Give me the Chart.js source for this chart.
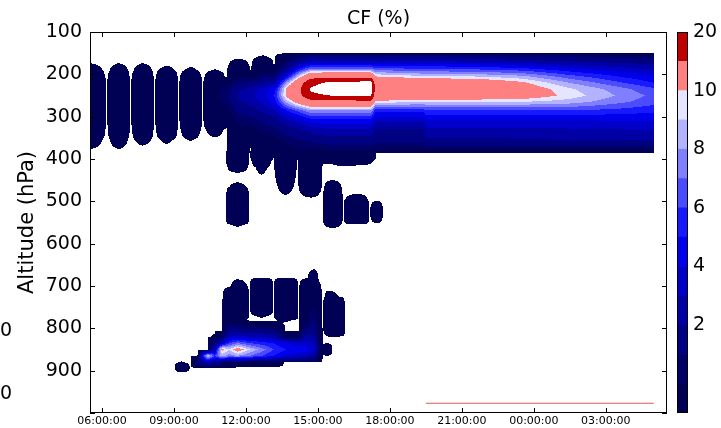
<!DOCTYPE html>
<html>
<head>
<meta charset="utf-8">
<script src="https://cdn.jsdelivr.net/npm/chart.js@4/dist/chart.umd.min.js"></script>
<style>
  body { margin: 0; background: #fff; }
  #cf { position: absolute; left: 0; top: 0; }
  #bar { position: absolute; left: 670px; top: 0; }
</style>
</head>
<body>
<canvas id="cf" width="721" height="428"></canvas>
<canvas id="bar" width="51" height="428"></canvas>
<script>
const FONT = "DejaVu Sans";

// contour levels and the seismic colours of the bands between them
const levels = [0.01, 0.5, 1, 2, 3, 4, 5, 6, 7, 8, 9, 10, 15, 20];
const bandColors = [
    "#000055", "#000067", "#000082", "#0000A5", "#0000C9", "#0000ED", "#1919FF",
    "#4C4CFF", "#7F7FFF", "#B2B2FF", "#E5E5FF", "#FF8080", "#BF0000",
];
const colorbarTicks = [2, 4, 6, 8, 10, 20];

const xTickHours = [6, 9, 12, 15, 18, 21, 24, 27];
const yTicks = [100, 200, 300, 400, 500, 600, 700, 800, 900, 1000];

// upper cloud layer: one profile per time (hours since midnight)
const upperTimes = [5.5, 6.2, 6.7, 7.2, 7.7, 8.2, 8.7, 9.2, 9.7, 10.2, 10.7, 11.2, 11.7, 12.2, 12.7,
    13.2, 13.7, 14.2, 14.7, 15.5, 16.5, 17.2, 17.4, 19.4, 19.5, 21.5, 23.5, 25.5, 27.5, 29.0];
const upperPressures = [150, 160, 175, 190, 205, 220, 235, 250, 265, 285, 305, 330, 355, 375, 386];
const upperCF = [
    [0, 0, 0.012, 0.04, 0.1, 0.25, 0.3, 0.3, 0.3, 0.3, 0.25, 0.12, 0.04, 0.012, 0],
    [0, 0, 0, 0, 0, 0, 0, 0, 0, 0, 0, 0, 0, 0, 0],
    [0, 0, 0.012, 0.04, 0.1, 0.25, 0.3, 0.3, 0.3, 0.3, 0.25, 0.12, 0.04, 0.012, 0],
    [0, 0, 0, 0, 0, 0, 0, 0, 0, 0, 0, 0, 0, 0, 0],
    [0, 0, 0.012, 0.04, 0.1, 0.25, 0.3, 0.3, 0.3, 0.3, 0.25, 0.1, 0.03, 0, 0],
    [0, 0, 0, 0, 0, 0, 0, 0, 0, 0, 0, 0, 0, 0, 0],
    [0, 0, 0, 0.03, 0.1, 0.25, 0.3, 0.3, 0.3, 0.3, 0.25, 0.1, 0.02, 0, 0],
    [0, 0, 0, 0, 0, 0, 0, 0, 0, 0, 0, 0, 0, 0, 0],
    [0, 0, 0, 0.02, 0.08, 0.2, 0.3, 0.3, 0.3, 0.3, 0.2, 0.06, 0.012, 0, 0],
    [0, 0, 0, 0, 0, 0, 0, 0, 0, 0, 0, 0, 0, 0, 0],
    [0, 0, 0, 0.012, 0.06, 0.2, 0.35, 0.4, 0.35, 0.3, 0.2, 0.04, 0, 0, 0],
    [0, 0, 0, 0, 0, 0.1, 0.6, 0.8, 0.6, 0.3, 0.1, 0, 0, 0, 0],
    [0, 0, 0.05, 0.2, 0.4, 1, 1.8, 2.2, 1.8, 1.2, 0.7, 0.4, 0.3, 0.25, 0.2],
    [0, 0, 0, 0, 0.1, 1.2, 2.4, 2.8, 2.4, 1.6, 0.8, 0.3, 0.1, 0, 0],
    [0, 0.02, 0.1, 0.3, 0.8, 2, 3.4, 3.6, 3.2, 2.2, 1.3, 0.6, 0.35, 0.3, 0.25],
    [0, 0, 0, 0.1, 1, 2.5, 4.5, 5.2, 4.5, 3, 1.8, 0.8, 0.3, 0.1, 0],
    [0, 0.2, 0.8, 2, 4.5, 8, 10.5, 10.5, 8.5, 5, 3, 1.5, 0.6, 0.35, 0.3],
    [0, 0.8, 2.5, 5.5, 9, 12.5, 14, 13.5, 11, 6.5, 3.8, 2, 0.9, 0.5, 0.3],
    [0, 1.5, 4, 8, 13, 18.5, 20.5, 19, 13, 8, 5, 2.5, 1.2, 0.5, 0.3],
    [0, 1.5, 4, 8, 13.5, 21, 23, 20, 13.5, 8, 5, 3, 1.5, 0.6, 0.3],
    [0, 1.5, 4, 8, 13.5, 21.5, 23, 20.5, 13.5, 8, 5, 3, 1.5, 0.6, 0.3],
    [0, 1.5, 4, 8, 13.5, 22, 23.5, 21, 13.5, 8, 5, 3, 1.5, 0.6, 0.3],
    [0, 1.5, 3.8, 7, 10, 13, 13.5, 12.5, 9.5, 5.5, 3.5, 1.9, 1.3, 0.5, 0],
    [0, 1.5, 4, 6.5, 9.2, 12, 13, 12, 9, 5.5, 3.5, 1.9, 1.3, 0.5, 0],
    [0, 1.5, 4, 6.5, 9.2, 12, 13, 12, 9, 6, 4.2, 2.8, 1.8, 0.6, 0],
    [0, 1.4, 3.8, 6.3, 9, 11.8, 12.6, 11.8, 9, 6, 4.2, 2.8, 1.8, 0.6, 0],
    [0, 1.2, 3.3, 5.8, 8.3, 10.3, 11.2, 11.2, 9, 6, 4.2, 2.8, 1.9, 0.6, 0],
    [0, 1, 2.6, 4.6, 6.4, 8, 9.2, 9.55, 8.5, 6, 4.2, 2.9, 2, 0.6, 0],
    [0, 0.8, 2.2, 3.7, 5, 6.2, 7.5, 7.9, 7.3, 5.7, 4.2, 3, 2, 0.6, 0],
    [0, 0.7, 1.9, 3.1, 4.1, 5, 6.2, 6.7, 6.4, 5.3, 4.2, 3.1, 2.05, 0.6, 0],
];

// streaks hanging under the layer and the mid-level patches
const midTimes = [11.15, 11.65, 12.15, 12.65, 13.15, 13.65, 14.15, 14.7, 15.2, 15.6, 16.05, 16.65, 17.15, 17.45, 17.75];
const midPressures = [380, 390, 405, 420, 435, 450, 465, 480, 495, 510, 525, 540, 555, 565];
const midCF = [
    [0, 0, 0, 0, 0, 0, 0, 0, 0, 0, 0, 0, 0, 0],
    [0.3, 0.3, 0.2, 0.06, 0, 0, 0.03, 0.15, 0.3, 0.3, 0.3, 0.3, 0.02, 0],
    [0, 0, 0, 0, 0, 0, 0, 0, 0, 0, 0, 0, 0, 0],
    [0.3, 0.2, 0.06, 0.02, 0.012, 0, 0, 0, 0, 0, 0, 0, 0, 0],
    [0.1, 0.02, 0, 0, 0, 0, 0, 0, 0, 0, 0, 0, 0, 0],
    [0.3, 0.3, 0.25, 0.15, 0.08, 0.05, 0.03, 0.015, 0, 0, 0, 0, 0, 0],
    [0.2, 0.05, 0, 0, 0, 0, 0, 0, 0, 0, 0, 0, 0, 0],
    [0.3, 0.3, 0.3, 0.3, 0.3, 0.25, 0.12, 0.04, 0, 0, 0, 0, 0, 0],
    [0.3, 0.15, 0.02, 0, 0, 0, 0, 0, 0, 0, 0, 0, 0, 0],
    [0.3, 0.2, 0.02, 0, 0, 0.01, 0.06, 0.15, 0.3, 0.3, 0.3, 0.3, 0.05, 0],
    [0.3, 0.2, 0.05, 0, 0, 0, 0, 0, 0, 0, 0, 0, 0, 0],
    [0.3, 0.25, 0.03, 0, 0, 0, 0, 0, 0.06, 0.3, 0.3, 0.25, 0, 0],
    [0.3, 0.15, 0.02, 0, 0, 0, 0, 0, 0, 0, 0, 0, 0, 0],
    [0, 0, 0, 0, 0, 0, 0, 0, 0, 0.05, 0.15, 0.05, 0, 0],
    [0, 0, 0, 0, 0, 0, 0, 0, 0, 0, 0, 0, 0, 0],
];

// low cloud between 650 and 900 hPa
const lowerTimes = [9.0, 9.3, 9.7, 10.0, 10.4, 10.7, 11.0, 11.3, 11.65, 12.15, 12.65, 13.15, 13.65,
    14.2, 14.5, 14.85, 15.05, 15.2, 15.35, 15.6, 16.15];
const lowerPressures = [655, 680, 700, 725, 750, 770, 780, 790, 805, 820, 835, 850, 865, 880, 893, 905];
const lowerCF = [
    [0, 0, 0, 0, 0, 0, 0, 0, 0, 0, 0, 0, 0, 0, 0, 0],
    [0, 0, 0, 0, 0, 0, 0, 0, 0, 0, 0, 0, 0, 0.012, 0.1, 0],
    [0, 0, 0, 0, 0, 0, 0, 0, 0, 0, 0, 0, 0, 0, 0, 0],
    [0, 0, 0, 0, 0, 0, 0, 0, 0, 0, 0, 0, 0.012, 1, 0, 0],
    [0, 0, 0, 0, 0, 0, 0, 0, 0, 0, 0, 0, 9.5, 3, 0, 0],
    [0, 0, 0, 0, 0, 0, 0, 0, 0, 0.02, 1, 3, 6, 2, 0, 0],
    [0, 0, 0, 0, 0, 0, 0, 0, 0, 0.5, 3.5, 10.5, 8.5, 1, 0, 0],
    [0, 0, 0, 0.1, 0.25, 0.25, 0.25, 0.5, 1.5, 3, 6, 9, 7.5, 0.5, 0, 0],
    [0, 0, 0.05, 0.3, 0.3, 0.3, 0.02, 0.5, 1.5, 3.5, 7, 11, 8, 0.2, 0, 0],
    [0, 0, 0, 0, 0, 0, 0, 0.05, 1.2, 3, 6, 9, 7, 0.1, 0, 0],
    [0, 0, 0.3, 0.3, 0.3, 0.02, 0, 0.05, 1.2, 3, 5.5, 7.5, 6, 0.1, 0, 0],
    [0, 0, 0, 0, 0, 0, 0, 0.05, 1, 2.5, 5, 6, 5, 0.1, 0, 0],
    [0, 0, 0.3, 0.3, 0.3, 0.3, 0.02, 0, 0, 0.5, 4, 5, 4, 0, 0, 0],
    [0, 0, 0, 0, 0, 0, 0, 0, 0, 0.5, 3.5, 4.5, 3.5, 0, 0, 0],
    [0, 0, 0.1, 0.3, 0.3, 0.3, 0.3, 0.5, 1.2, 2.5, 3.5, 4.5, 3, 0, 0, 0],
    [0, 0.05, 0.15, 0.3, 0.5, 0.8, 1, 1.2, 1.5, 2, 3, 3.5, 2, 0, 0, 0],
    [0, 0, 0.02, 0.05, 0.05, 0.05, 0.05, 0.1, 0.2, 0.3, 0.5, 0.8, 0.3, 0, 0, 0],
    [0, 0, 0, 0, 0, 0, 0, 0, 0, 0, 0, 0, 0, 0, 0, 0],
    [0, 0, 0, 0.02, 0.1, 0.1, 0.1, 0.1, 0.05, 0, 0, 0.3, 0, 0, 0, 0],
    [0, 0, 0, 0.02, 0.3, 0.3, 0.3, 0.3, 0.3, 0.01, 0, 0, 0, 0, 0, 0],
    [0, 0, 0, 0, 0, 0, 0, 0, 0, 0, 0, 0, 0, 0, 0, 0],
];

// thin trace near the surface
const surfaceTimes = [19.5, 29.0];
const surfacePressure = [977, 977];

const fields = [
    { times: upperTimes, pressures: upperPressures, values: upperCF },
    { times: midTimes, pressures: midPressures, values: midCF },
    { times: lowerTimes, pressures: lowerPressures, values: lowerCF },
];

function hexToRgb(h) {
    return [parseInt(h.slice(1, 3), 16), parseInt(h.slice(3, 5), 16), parseInt(h.slice(5, 7), 16)];
}
const bandRgb = bandColors.map(hexToRgb);

function sample(f, t, p) {
    const T = f.times, P = f.pressures;
    if (t < T[0] || t > T[T.length - 1] || p < P[0] || p > P[P.length - 1]) return -1;
    let i = 0;
    while (i < T.length - 2 && t > T[i + 1]) i++;
    let j = 0;
    while (j < P.length - 2 && p > P[j + 1]) j++;
    const u = (t - T[i]) / (T[i + 1] - T[i]);
    const w = (p - P[j]) / (P[j + 1] - P[j]);
    const v = f.values;
    return (1 - u) * (1 - w) * v[i][j] + u * (1 - w) * v[i + 1][j] +
        (1 - u) * w * v[i][j + 1] + u * w * v[i + 1][j + 1];
}

function bandOf(v) {
    if (v < levels[0] || v >= levels[levels.length - 1]) return -1;
    let k = 0;
    while (k < levels.length - 2 && v >= levels[k + 1]) k++;
    return k;
}

// filled contours, painted pixel by pixel through the chart scales
const contourFill = {
    id: "contourFill",
    beforeDatasetsDraw(chart) {
        const { ctx, chartArea: a, scales: { x, y } } = chart;
        const left = Math.round(a.left), top = Math.round(a.top);
        const w = Math.round(a.right) - left, h = Math.round(a.bottom) - top;
        const img = ctx.createImageData(w, h);
        const ts = [], ps = [];
        for (let c = 0; c < w; c++) ts.push(x.getValueForPixel(left + c + 0.5));
        for (let r = 0; r < h; r++) ps.push(y.getValueForPixel(top + r + 0.5));
        for (let r = 0; r < h; r++) {
            for (let c = 0; c < w; c++) {
                let v = -1;
                for (const f of fields) v = Math.max(v, sample(f, ts[c], ps[r]));
                const k = bandOf(v);
                if (k < 0) continue;
                const o = (r * w + c) * 4;
                img.data[o] = bandRgb[k][0];
                img.data[o + 1] = bandRgb[k][1];
                img.data[o + 2] = bandRgb[k][2];
                img.data[o + 3] = 255;
            }
        }
        ctx.putImageData(img, left, top);
    },
    afterDraw(chart) {
        const { ctx, chartArea: a, scales: { x, y } } = chart;
        ctx.save();
        ctx.strokeStyle = "#000";
        ctx.lineWidth = 1;
        ctx.beginPath();
        for (const t of xTickHours) {
            const px = Math.round(x.getPixelForValue(t)) + 0.5;
            ctx.moveTo(px, a.bottom); ctx.lineTo(px, a.bottom - 5);
            ctx.moveTo(px, a.top); ctx.lineTo(px, a.top + 5);
        }
        for (const p of yTicks) {
            const py = Math.round(y.getPixelForValue(p)) + 0.5;
            ctx.moveTo(a.left, py); ctx.lineTo(a.left + 5, py);
            ctx.moveTo(a.right, py); ctx.lineTo(a.right - 5, py);
        }
        ctx.stroke();
        ctx.strokeRect(a.left + 0.5, a.top + 0.5, a.right - a.left - 1, a.bottom - a.top - 1);
        // clipped labels left over at the page edge
        ctx.fillStyle = "#000";
        ctx.font = "19px " + FONT;
        ctx.textBaseline = "middle";
        ctx.fillText("0", 0, 331);
        ctx.fillText("0", 0, 394);
        ctx.restore();
    },
};

function clock(v) {
    const hh = ((Math.round(v) % 24) + 24) % 24;
    return String(hh).padStart(2, "0") + ":00:00";
}

// keep tick label overhang from shrinking the plot area
function noLabelPadding(s) {
    s.paddingTop = 0;
    s.paddingBottom = 0;
}

new Chart(document.getElementById("cf"), {
    type: "line",
    data: {
        datasets: [{
            data: surfaceTimes.map((t, i) => ({ x: t, y: surfacePressure[i] })),
            borderColor: "#e05a5a",
            borderWidth: 1,
            pointRadius: 0,
        }],
    },
    options: {
        responsive: false,
        animation: false,
        layout: { padding: { left: 0, right: 54, top: 0, bottom: 0 } },
        plugins: {
            legend: { display: false },
            tooltip: { enabled: false },
            title: {
                display: true,
                text: "CF (%)",
                fullSize: false,
                color: "#000",
                font: { family: FONT, size: 19, weight: "normal", lineHeight: 1 },
                padding: { top: 10, bottom: 3 },
            },
        },
        scales: {
            x: {
                type: "linear",
                min: 5.5,
                max: 29.55,
                afterBuildTicks: (s) => { s.ticks = xTickHours.map((v) => ({ value: v })); },
                afterFit: (s) => { s.height = 15; },
                grid: { display: false, drawTicks: false },
                border: { display: false },
                ticks: {
                    callback: clock,
                    autoSkip: false,
                    maxRotation: 0,
                    padding: 2,
                    color: "#000",
                    font: { family: FONT, size: 11 },
                },
            },
            y: {
                type: "linear",
                reverse: true,
                min: 100,
                max: 1000,
                afterBuildTicks: (s) => { s.ticks = yTicks.map((v) => ({ value: v })); },
                afterFit: (s) => { s.width = 90; noLabelPadding(s); },
                grid: { display: false, drawTicks: false },
                border: { display: false },
                ticks: {
                    callback: (v) => (v === 1000 ? "" : v),
                    padding: 8,
                    color: "#000",
                    font: { family: FONT, size: 19 },
                },
                title: {
                    display: true,
                    text: "Altitude (hPa)",
                    color: "#000",
                    font: { family: FONT, size: 21 },
                    padding: { top: 15, bottom: 0 },
                },
            },
        },
    },
    plugins: [contourFill],
});

// colour bar: one stacked segment per band
const barOutline = {
    id: "barOutline",
    afterDraw(chart) {
        const { ctx, chartArea: a } = chart;
        ctx.save();
        ctx.strokeStyle = "#000";
        ctx.lineWidth = 1;
        ctx.strokeRect(a.left + 0.5, a.top + 0.5, a.right - a.left - 1, a.bottom - a.top - 1);
        ctx.restore();
    },
};

new Chart(document.getElementById("bar"), {
    type: "bar",
    data: {
        labels: [""],
        datasets: bandColors.map((c) => ({
            data: [1],
            backgroundColor: c,
            barPercentage: 1,
            categoryPercentage: 1,
        })),
    },
    options: {
        responsive: false,
        animation: false,
        layout: { padding: { left: 7, top: 32, bottom: 15, right: 0 } },
        plugins: { legend: { display: false }, tooltip: { enabled: false } },
        scales: {
            x: { stacked: true, display: false },
            y: {
                stacked: true,
                position: "right",
                min: 0,
                max: levels.length - 1,
                afterBuildTicks: (s) => { s.ticks = colorbarTicks.map((v) => ({ value: levels.indexOf(v) })); },
                afterFit: (s) => { s.width = 33; noLabelPadding(s); },
                grid: { display: false, drawTicks: false },
                border: { display: false },
                ticks: {
                    callback: (v) => levels[v],
                    padding: 5,
                    color: "#000",
                    font: { family: FONT, size: 19 },
                },
            },
        },
    },
    plugins: [barOutline],
});
</script>
</body>
</html>
